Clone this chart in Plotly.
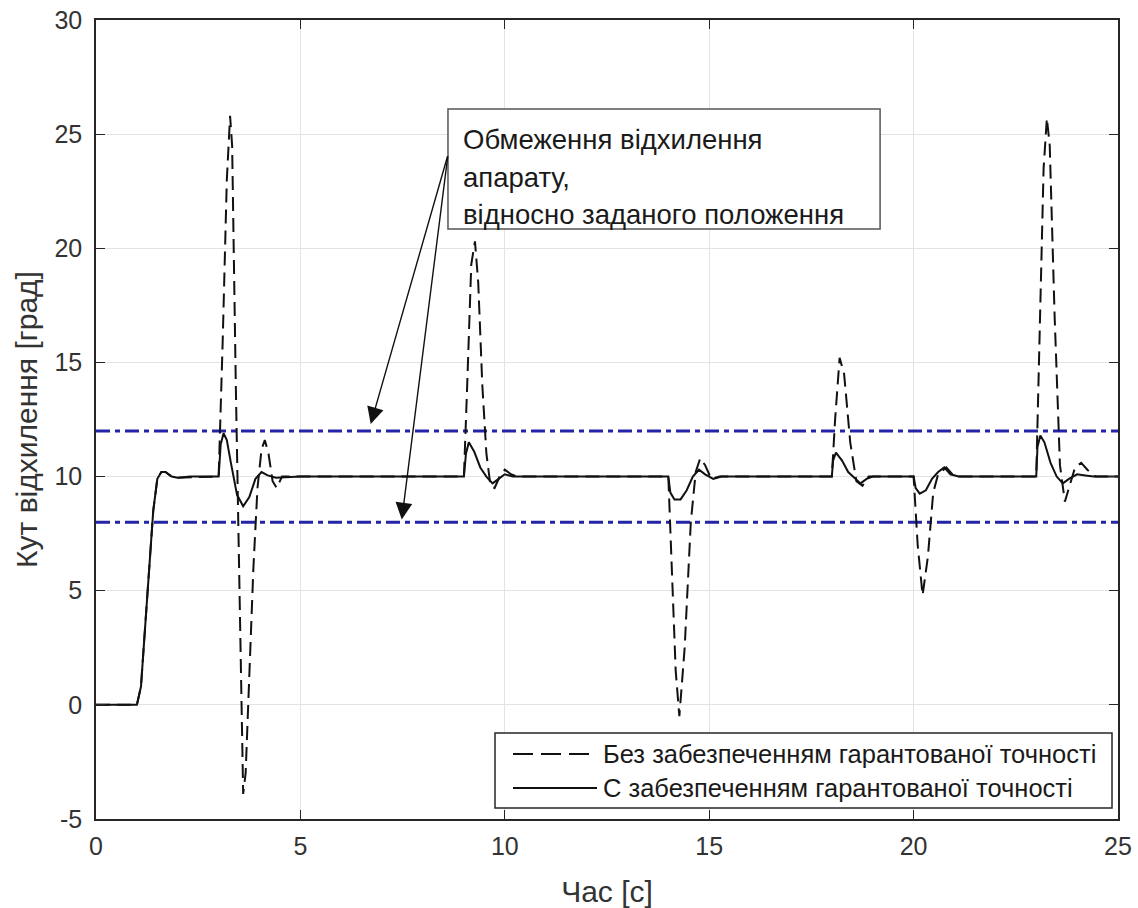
import plotly.graph_objects as go

# ---- data ----
t_without = [0, 1.0, 1.1, 1.25, 1.4, 1.5, 1.6, 1.7, 1.85, 2.0, 3.0, 3.1, 3.2, 3.28, 3.33, 3.42, 3.52, 3.6, 3.66,
             3.75, 3.85, 3.95, 4.05, 4.13, 4.22, 4.32, 4.42, 4.55,
             9.0, 9.08, 9.18, 9.27, 9.35, 9.45, 9.55, 9.65, 9.75, 9.9, 10.0, 10.15, 10.3,
             14.0, 14.08, 14.18, 14.27, 14.4, 14.55, 14.67, 14.78, 14.9, 15.05, 15.25,
             18.0, 18.08, 18.19, 18.3, 18.45, 18.6, 18.75, 18.9,
             20.0, 20.1, 20.22, 20.35, 20.48, 20.6, 20.8, 21.0,
             23.0, 23.08, 23.18, 23.26, 23.33, 23.45, 23.58, 23.7, 23.82, 23.95, 24.1, 24.25, 24.45, 25.0]
y_without = [0, 0, 0.8, 4.5, 8.5, 9.9, 10.2, 10.2, 10.0, 9.95, 10.0, 16.0, 23.0, 25.8, 24.5, 14.0, 3.0, -3.9, -3.0,
             1.5, 6.0, 9.5, 11.2, 11.6, 11.0, 9.8, 9.5, 10.0,
             10.0, 14.0, 19.3, 20.3, 18.5, 14.0, 11.0, 9.6, 9.5, 10.1, 10.3, 10.1, 10.0,
             10.0, 6.0, 1.5, -0.5, 2.5, 8.0, 10.2, 10.8, 10.5, 9.9, 10.0,
             10.0, 12.5, 15.2, 14.5, 11.5, 9.8, 9.6, 10.0,
             10.0, 7.0, 4.8, 6.5, 9.3, 10.1, 10.4, 10.0,
             10.0, 16.0, 23.5, 25.7, 24.5, 17.0, 10.5, 8.9, 9.6, 10.4, 10.6, 10.3, 10.0, 10.0]

t_with = [0, 1.0, 1.1, 1.25, 1.4, 1.5, 1.6, 1.7, 1.85, 2.0, 2.3, 3.0, 3.05, 3.12, 3.2, 3.3, 3.45, 3.6, 3.75, 3.9,
          4.05, 4.2, 4.4, 5.0,
          9.0, 9.05, 9.12, 9.25, 9.4, 9.55, 9.7, 9.85, 10.0, 10.2,
          14.0, 14.05, 14.15, 14.3, 14.45, 14.6, 14.75, 14.9, 15.1, 15.3,
          18.0, 18.03, 18.1, 18.25, 18.4, 18.55, 18.7, 18.85, 19.0,
          20.0, 20.05, 20.15, 20.3, 20.45, 20.6, 20.75, 20.9, 21.1,
          23.0, 23.03, 23.1, 23.2, 23.35, 23.5, 23.65, 23.8, 24.0, 24.2, 24.4, 25.0]
y_with = [0, 0, 0.8, 4.5, 8.5, 9.9, 10.2, 10.2, 10.0, 9.95, 10.0, 10.0, 11.4, 11.9, 11.6, 10.6, 9.2, 8.7, 9.1, 9.9,
          10.2, 10.05, 9.95, 10.0,
          10.0, 11.0, 11.5, 11.1, 10.4, 10.0, 9.7, 9.9, 10.1, 10.0,
          10.0, 9.3, 9.0, 9.0, 9.4, 10.0, 10.3, 10.1, 9.9, 10.0,
          10.0, 10.7, 11.05, 10.7, 10.2, 9.95, 9.7, 9.9, 10.0,
          10.0, 9.5, 9.25, 9.4, 9.9, 10.2, 10.4, 10.1, 10.0,
          10.0, 11.3, 11.8, 11.5, 10.6, 10.0, 9.7, 9.9, 10.1, 10.05, 10.0, 10.0]

limit_t = [0, 25]
upper_limit = [12, 12]
lower_limit = [8, 8]

x_ticks = [0, 5, 10, 15, 20, 25]
y_ticks = [-5, 0, 5, 10, 15, 20, 25, 30]

name_without = "Без забезпеченням гарантованої точності"
name_with = "С забезпеченням гарантованої точності"
note_lines = ["Обмеження відхилення", "апарату,", "відносно заданого положення"]

FONT = "Liberation Sans, Arial, Helvetica, sans-serif"
TXT = "#333333"
BLUE = "#2424a8"

fig = go.Figure()
fig.add_trace(go.Scatter(x=limit_t, y=upper_limit, mode="lines", showlegend=False,
                         line=dict(color=BLUE, width=3, dash="14px,5px,5px,5px")))
fig.add_trace(go.Scatter(x=limit_t, y=lower_limit, mode="lines", showlegend=False,
                         line=dict(color=BLUE, width=3, dash="14px,5px,5px,5px")))
fig.add_trace(go.Scatter(x=t_without, y=y_without, mode="lines", name=name_without, showlegend=False,
                         line=dict(color="#111111", width=2, dash="14px,7px")))
fig.add_trace(go.Scatter(x=t_with, y=y_with, mode="lines", name=name_with, showlegend=False,
                         line=dict(color="#111111", width=2)))

axis_common = dict(showline=True, linecolor="#262626", linewidth=1.5, mirror="ticks",
                   ticks="inside", ticklen=9, tickcolor="#262626", tickwidth=1,
                   showgrid=True, gridcolor="#e3e3e3", gridwidth=1, zeroline=False,
                   automargin=False,
                   tickfont=dict(family=FONT, size=25, color=TXT))

fig.update_xaxes(range=[0, 25], tickvals=x_ticks, ticktext=[str(v) for v in x_ticks],
                 ticklabelstandoff=4,
                 title=dict(text="Час [с]", font=dict(family=FONT, size=30, color=TXT), standoff=22),
                 **axis_common)
fig.update_yaxes(range=[-5, 30], tickvals=y_ticks, ticktext=[str(v) for v in y_ticks],
                 ticklabelstandoff=7,
                 title=dict(text="Кут відхилення [град]", font=dict(family=FONT, size=30, color=TXT), standoff=8),
                 **axis_common)

# annotation box with text
box_x0, box_x1, box_y0, box_y1 = 8.61, 19.18, 20.85, 26.1
fig.add_shape(type="rect", xref="x", yref="y", x0=box_x0, x1=box_x1, y0=box_y0, y1=box_y1,
              line=dict(color="#555555", width=1.5), fillcolor="white", layer="above")
for line_text, yv in zip(note_lines, [24.75, 23.1, 21.5]):
    fig.add_annotation(x=8.93, y=yv, xref="x", yref="y", text=line_text, showarrow=False,
                       xanchor="left", yanchor="middle",
                       font=dict(family=FONT, size=27.5, color="#1a1a1a"))

# arrows
for hx, hy in [(6.72, 12.3), (7.48, 8.12)]:
    fig.add_annotation(x=hx, y=hy, xref="x", yref="y", ax=8.61, ay=24.1, axref="x", ayref="y",
                       text="", showarrow=True, arrowhead=2, arrowsize=2.4, arrowwidth=1.4,
                       arrowcolor="#111111", standoff=0)

# legend drawn manually (paper coordinates computed from plot domain)
L, R, T, B = 96, 1118, 20, 819
W, H = R - L, B - T
def px(x):
    return (x - L) / W
def py(y):
    return (B - y) / H

fig.add_shape(type="rect", xref="paper", yref="paper", x0=px(495), x1=px(1112), y0=py(808), y1=py(733),
              line=dict(color="#262626", width=1.5), fillcolor="white", layer="above")
fig.add_shape(type="line", xref="paper", yref="paper", x0=px(513), x1=px(597), y0=py(754), y1=py(754),
              line=dict(color="#111111", width=2, dash="20px,8px"), layer="above")
fig.add_shape(type="line", xref="paper", yref="paper", x0=px(513), x1=px(597), y0=py(788), y1=py(788),
              line=dict(color="#111111", width=2), layer="above")
for text, yy in [(name_without, 754), (name_with, 788)]:
    fig.add_annotation(x=px(601), y=py(yy), xref="paper", yref="paper", text=text, showarrow=False,
                       xanchor="left", yanchor="middle", font=dict(family=FONT, size=25.5, color="#1a1a1a"))

fig.update_layout(width=1138, height=908, margin=dict(l=L, r=1138 - R, t=T, b=908 - B),
                  paper_bgcolor="white", plot_bgcolor="white", showlegend=False)

fig.write_html("out.html")
